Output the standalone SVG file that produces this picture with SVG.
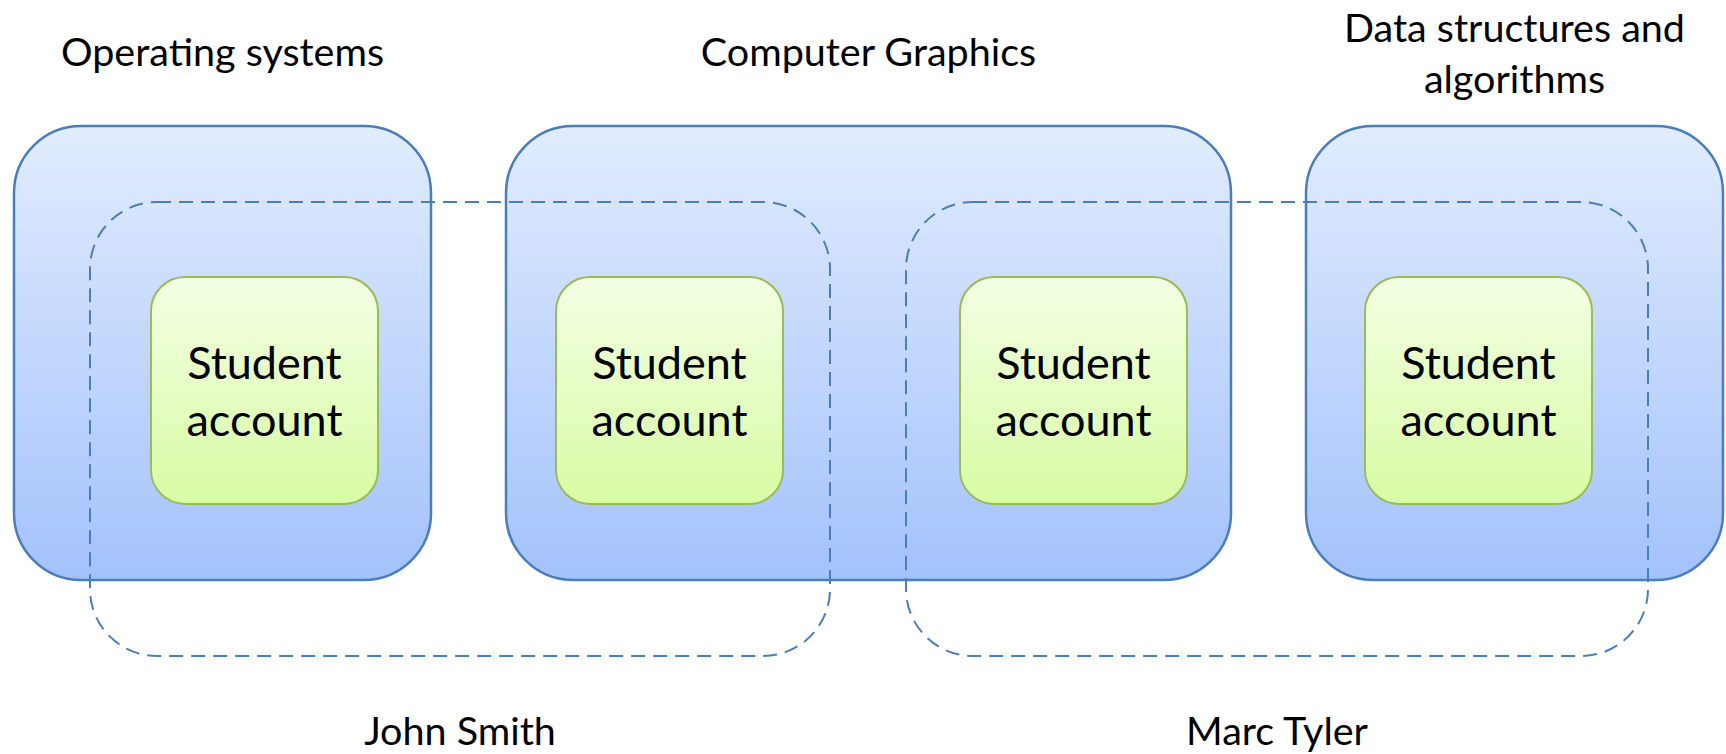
<svg xmlns="http://www.w3.org/2000/svg" width="1726" height="754" viewBox="0 0 1726 754">
<defs>
<linearGradient id="gBlue" x1="0" y1="0" x2="0" y2="1">
<stop offset="0" stop-color="#e1ecfe"/>
<stop offset="1" stop-color="#a3c2fb"/>
</linearGradient>
<linearGradient id="gGreen" x1="0" y1="0" x2="0" y2="1">
<stop offset="0" stop-color="#f3fee3"/>
<stop offset="1" stop-color="#d8fca4"/>
</linearGradient>
<style>
.course{fill:url(#gBlue);stroke:#4a7ebb;stroke-width:2.5}
.student{fill:none;stroke:#4a7ebb;stroke-width:2;stroke-dasharray:14 8}
.acct{fill:url(#gGreen);stroke:#9bbb59;stroke-width:2}
.t{font-family:Lato,"Liberation Sans",sans-serif;fill:#000;text-anchor:middle}
.lbl{font-size:39.5px}
.in{font-size:45px}
</style>
</defs>
<rect width="1726" height="754" fill="#fff"/>
<g id="course-os">
<rect class="course" x="14" y="126" width="417" height="454" rx="67" ry="67"/>
<text class="t lbl" x="222.5" y="66">Operating systems</text>
</g>
<g id="course-cg">
<rect class="course" x="506" y="126" width="725" height="454" rx="67" ry="67"/>
<text class="t lbl" x="868.5" y="66">Computer Graphics</text>
</g>
<g id="course-dsa">
<rect class="course" x="1306" y="126" width="417" height="454" rx="67" ry="67"/>
<text class="t lbl" x="1514.5" y="42">Data structures and</text>
<text class="t lbl" x="1514.5" y="93">algorithms</text>
</g>
<g id="connectors">
</g>
<g id="student-john">
<rect class="student" x="90" y="202" width="740" height="454" rx="67" ry="67"/>
<text class="t lbl" x="460" y="745">John Smith</text>
</g>
<g id="student-marc">
<rect class="student" x="906" y="202" width="742" height="454" rx="67" ry="67"/>
<text class="t lbl" x="1277" y="745">Marc Tyler</text>
</g>
<g id="acct-1">
<rect class="acct" x="151" y="277" width="227" height="227" rx="34" ry="34"/>
<text class="t in" x="264.5" y="379">Student</text>
<text class="t in" x="264.5" y="436">account</text>
</g>
<g id="acct-2">
<rect class="acct" x="556" y="277" width="227" height="227" rx="34" ry="34"/>
<text class="t in" x="669.5" y="379">Student</text>
<text class="t in" x="669.5" y="436">account</text>
</g>
<g id="acct-3">
<rect class="acct" x="960" y="277" width="227" height="227" rx="34" ry="34"/>
<text class="t in" x="1073.5" y="379">Student</text>
<text class="t in" x="1073.5" y="436">account</text>
</g>
<g id="acct-4">
<rect class="acct" x="1365" y="277" width="227" height="227" rx="34" ry="34"/>
<text class="t in" x="1478.5" y="379">Student</text>
<text class="t in" x="1478.5" y="436">account</text>
</g>
</svg>
